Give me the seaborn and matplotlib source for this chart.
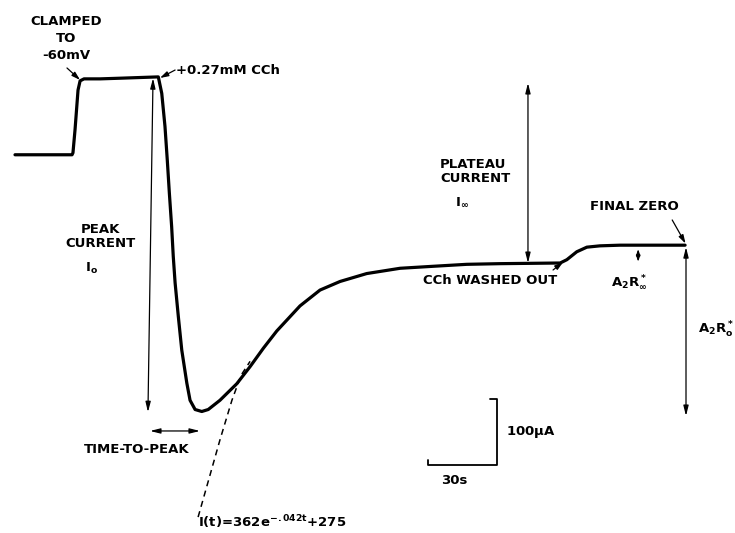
import numpy as np
import pandas as pd
import matplotlib
matplotlib.use('Agg')
import matplotlib.pyplot as plt
import seaborn as sns

# Current trace (time in s from trace start, current in uA, inward negative)
trace_time = [0.0, 24.8, 25.2, 26.1, 27.4, 28.3, 30.0, 37.0, 45.7, 62.3, 63.8, 65.2,
              66.2, 67.1, 68.1, 68.8, 69.6, 71.0, 72.5, 74.7, 76.1, 78.3, 81.2, 84.0,
              89.1, 96.4, 102.2, 108.0, 113.8, 123.9, 132.6, 141.3, 152.9, 167.4,
              181.7, 196.4, 210.9, 237.0, 239.9, 244.2, 248.6, 254.3, 263.0, 291.3]
trace_current = [-111, -111, -108, -73, -13, 1, 4, 4, 5, 7, -18, -68,
                 -119, -169, -220, -265, -305, -356, -407, -457, -483, -497, -500, -497,
                 -483, -458, -432, -404, -378, -340, -316, -303, -291, -283,
                 -280, -277, -276, -275, -270, -258, -251, -249, -248, -248]

# Exponential fit extrapolated back to the peak (dashed)
fit_time = [79.6, 84.8, 89.1, 94.3, 98.3, 102.2]
fit_current = [-660, -596, -543, -483, -445, -424]

# Key levels (uA) and times (s)
zero_level = 5
peak_current = -501
plateau_current = -275
final_zero = -248
peak_time = 80.4
drug_time = 58.7
washout_time = 238.3
end_time = 291.5

# Scale bar
scale_s = 30
scale_ua = 100
scale_t0 = 179.6
scale_i0 = -581

sns.set_style('white')
plt.rcParams['font.family'] = ['DejaVu Sans']
plt.rcParams['text.color'] = 'black'
plt.rcParams['mathtext.fontset'] = 'custom'
plt.rcParams['mathtext.rm'] = 'DejaVu Sans:bold'
plt.rcParams['mathtext.it'] = 'DejaVu Sans:bold'
plt.rcParams['mathtext.bf'] = 'DejaVu Sans:bold'

fig = plt.figure(figsize=(7.35, 5.33), dpi=100)
ax = fig.add_axes([0, 0, 1, 1])

df = pd.DataFrame({'t': trace_time, 'i': trace_current})
sns.lineplot(data=df, x='t', y='i', ax=ax, color='black', lw=2.3, sort=False,
             solid_joinstyle='round', solid_capstyle='round')
fit_df = pd.DataFrame({'t': fit_time, 'i': fit_current})
sns.lineplot(data=fit_df, x='t', y='i', ax=ax, color='black', lw=1.1,
             linestyle=(0, (4, 3)), sort=False)

ax.set_xlim(-6.52, 313.0)
ax.set_ylim(-684.1, 123.5)
ax.axis('off')

fs = 9.5
tk = dict(fontsize=fs, fontweight='bold', color='black')
thin = dict(color='black', lw=0.9, shrinkA=0, shrinkB=0)
both = dict(arrowstyle='<|-|>,head_length=0.6,head_width=0.15', **thin)
plain = dict(arrowstyle='-|>,head_length=0.5,head_width=0.15', **thin)

# Clamped to -60 mV
ax.text(22.2, 65.9, 'CLAMPED\nTO\n-60mV', ha='center', va='center',
        linespacing=1.4, **tk)
ax.annotate('', xy=(28.3, 2.3), xytext=(22.6, 20.5), arrowprops=plain)

# Carbachol added
ax.text(70.0, 17.4, '+0.27mM CCh', ha='left', va='center', **tk)
ax.annotate('', xy=(63.0, 5.3), xytext=(69.6, 17.4), arrowprops=plain)

# Peak current
ax.annotate('', xy=(57.8, peak_current), xytext=(60.0, zero_level), arrowprops=both)
ax.text(37.0, -235.6, 'PEAK\nCURRENT', ha='center', va='center', linespacing=1.1, **tk)
ax.text(30.4, -282.6, r'I$_\mathrm{o}$', ha='left', va='center', **tk)

# Time to peak
ax.annotate('', xy=(peak_time, -529.5), xytext=(drug_time, -529.5), arrowprops=both)
ax.text(53.0, -558.0, 'TIME-TO-PEAK', ha='center', va='center', **tk)

# Fit equation
ax.text(79.6, -667.4, r'I(t)=362e$^{-.042t}$+275', ha='left', va='center', **tk)

# Plateau current
ax.annotate('', xy=(223.0, plateau_current), xytext=(223.0, -2.3), arrowprops=both)
ax.text(184.8, -137.0, 'PLATEAU\nCURRENT', ha='left', va='center', linespacing=1.1, **tk)
ax.text(191.3, -184.0, r'I$_\infty$', ha='left', va='center', **tk)

# Washout
ax.text(177.4, -302.0, 'CCh WASHED OUT', ha='left', va='center', **tk)
ax.annotate('', xy=(washout_time, -273.5), xytext=(233.9, -285.6), arrowprops=plain)

# Final zero
ax.text(250.0, -190.0, 'FINAL ZERO', ha='left', va='center', **tk)
ax.annotate('', xy=(end_time, -245.5), xytext=(285.7, -209.8), arrowprops=plain)

# A2R* infinity
ax.annotate('', xy=(270.9, plateau_current + 2), xytext=(270.9, final_zero - 6),
            arrowprops=dict(arrowstyle='<|-|>,head_length=0.35,head_width=0.12', **thin))
ax.text(259.0, -305.0, r'A$_2$R$^*_\infty$', ha='left', va='center', **tk)

# A2R* zero
ax.annotate('', xy=(291.7, -506.8), xytext=(291.7, final_zero - 3), arrowprops=both)
ax.text(297.0, -376.5, r'A$_2$R$^*_\mathrm{o}$', ha='left', va='center', **tk)

# Scale bar
ax.plot([scale_t0, scale_t0, scale_t0 + scale_s, scale_t0 + scale_s, scale_t0 + scale_s - 3],
        [scale_i0 + 8, scale_i0, scale_i0, scale_i0 + scale_ua, scale_ua + scale_i0],
        color='black', lw=1.3)
ax.text(scale_t0 + scale_s + 4, scale_i0 + scale_ua / 2, r'100$\mu$A', ha='left',
        va='center', **tk)
ax.text(scale_t0 + 11.5, scale_i0 - 24, '30s', ha='center', va='center', **tk)

fig.savefig('out.png', dpi=100, facecolor='white')
